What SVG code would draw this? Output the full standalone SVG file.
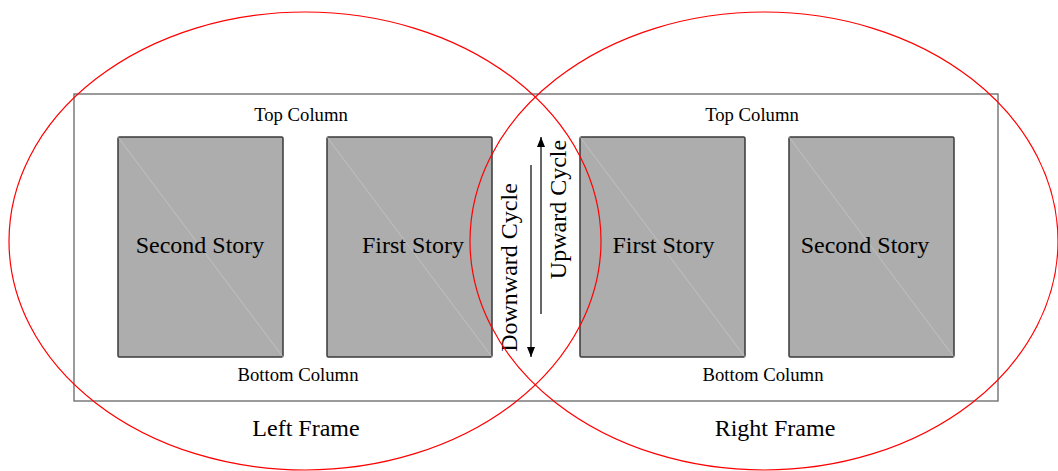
<svg xmlns="http://www.w3.org/2000/svg" width="1058" height="471" viewBox="0 0 1058 471">
<defs>
<style>
.frame{fill:none;stroke:#666;stroke-width:1.3}
.story{fill:#adadad;stroke:#3a3a3a;stroke-width:1.5}
.diag{stroke:#cfcfcf;stroke-width:0.6}
.ring{fill:none;stroke:#ff0000;stroke-width:1.2}
.big{font-family:"Liberation Serif","Times New Roman",serif;font-size:24px;fill:#000;text-anchor:middle}
.small{font-family:"Liberation Serif","Times New Roman",serif;font-size:18.7px;fill:#000;text-anchor:middle}
.arr{stroke:#000;stroke-width:1.2;fill:none}
</style>
<marker id="ah" viewBox="0 0 10 10" refX="10" refY="5" markerWidth="10" markerHeight="10" markerUnits="userSpaceOnUse" orient="auto">
<path d="M0,1 L10,5 L0,9 Z" fill="#000"/>
</marker>
</defs>
<rect width="1058" height="471" fill="#fff"/>
<g id="frame">
<rect class="frame" x="74" y="94" width="924" height="307"/>
<text class="small" x="301" y="121">Top Column</text>
<text class="small" x="298" y="381">Bottom Column</text>
<text class="small" x="752" y="121">Top Column</text>
<text class="small" x="763" y="381">Bottom Column</text>
<text class="big" x="306" y="436">Left Frame</text>
<text class="big" x="775" y="436">Right Frame</text>
</g>
<g id="left-second-story">
<rect class="story" x="118" y="137" width="165" height="220" rx="1.5"/>
<line class="diag" x1="118" y1="137" x2="283" y2="357"/>
<text class="big" x="200" y="253">Second Story</text>
</g>
<g id="left-first-story">
<rect class="story" x="327" y="137" width="165" height="220" rx="1.5"/>
<line class="diag" x1="327" y1="137" x2="492" y2="357"/>
<text class="big" x="413" y="253">First Story</text>
</g>
<g id="right-first-story">
<rect class="story" x="580" y="137" width="165" height="220" rx="1.5"/>
<line class="diag" x1="580" y1="137" x2="745" y2="357"/>
<text class="big" x="663.5" y="253">First Story</text>
</g>
<g id="right-second-story">
<rect class="story" x="789" y="137" width="165" height="220" rx="1.5"/>
<line class="diag" x1="789" y1="137" x2="954" y2="357"/>
<text class="big" x="865" y="253">Second Story</text>
</g>
<g id="connectors">
<line class="arr" x1="531" y1="165" x2="531" y2="357" marker-end="url(#ah)"/>
<line class="arr" x1="541" y1="314" x2="541" y2="137" marker-end="url(#ah)"/>
<text class="big" transform="translate(517,267.5) rotate(-90)">Downward Cycle</text>
<text class="big" transform="translate(566,209.5) rotate(-90)">Upward Cycle</text>
</g>
<g id="left-frame-ellipse">
<ellipse class="ring" cx="305" cy="241" rx="296" ry="229"/>
</g>
<g id="right-frame-ellipse">
<ellipse class="ring" cx="764" cy="241" rx="294" ry="229"/>
</g>
</svg>
